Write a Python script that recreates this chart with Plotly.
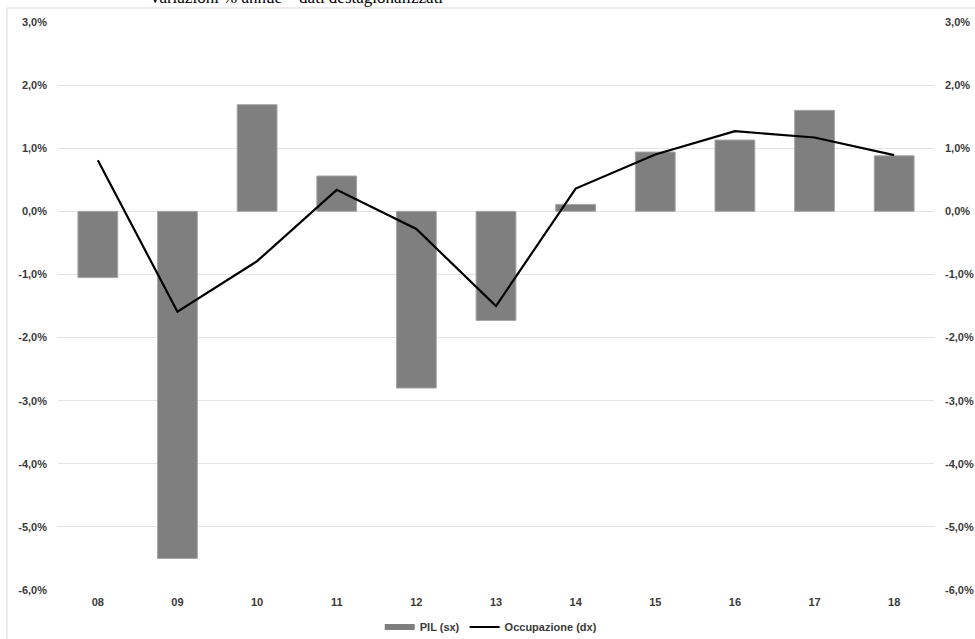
import plotly.graph_objects as go

# Anni (etichette categoria)
anni = ["08", "09", "10", "11", "12", "13", "14", "15", "16", "17", "18"]
# Variazione % annua del PIL (asse sinistro)
pil = [-1.05, -5.5, 1.69, 0.56, -2.8, -1.73, 0.11, 0.94, 1.13, 1.6, 0.88]
# Variazione % annua dell'occupazione (asse destro)
occupazione = [0.81, -1.59, -0.79, 0.34, -0.28, -1.5, 0.36, 0.9, 1.27, 1.17, 0.89]

tick_vals = [3, 2, 1, 0, -1, -2, -3, -4, -5, -6]
tick_text = ["3,0%", "2,0%", "1,0%", "0,0%", "-1,0%", "-2,0%", "-3,0%", "-4,0%", "-5,0%", "-6,0%"]

W, H = 975, 639
ML, MR, MT, MB = 58, 41, 22, 49
PW, PH = W - ML - MR, H - MT - MB

lab_font = dict(family="Liberation Sans, Arial, sans-serif", size=11, color="#3a3a3a")
BAR_COLOR = "#7f7f7f"

fig = go.Figure()
fig.add_trace(go.Bar(
    x=anni, y=pil, name="PIL (sx)", showlegend=False,
    marker=dict(color=BAR_COLOR, line=dict(color="#a6a6a6", width=1)),
    width=0.5, yaxis="y",
))
# voce di legenda per il PIL con simbolo a barra orizzontale
fig.add_trace(go.Scatter(
    x=[None], y=[None], name="<b>PIL (sx)</b>", mode="lines",
    line=dict(color=BAR_COLOR, width=6), yaxis="y",
))
fig.add_trace(go.Scatter(
    x=anni, y=occupazione, name="<b>Occupazione (dx)</b>", mode="lines",
    line=dict(color="#000000", width=2.2), yaxis="y2",
))

axis_common = dict(
    range=[-6, 3], tickvals=tick_vals, ticktext=[f"<b>{t}</b>" for t in tick_text],
    tickfont=lab_font, zeroline=False, showline=False, ticks="", automargin=False,
)

fig.update_layout(
    width=W, height=H,
    margin=dict(l=ML, r=MR, t=MT, b=MB, pad=0, autoexpand=False),
    paper_bgcolor="white", plot_bgcolor="white",
    xaxis=dict(
        tickfont=lab_font, showgrid=False, showline=False, ticks="",
        tickvals=anni, ticktext=[f"<b>{a}</b>" for a in anni],
        ticklabelstandoff=4, automargin=False,
    ),
    yaxis=dict(**axis_common, showgrid=True, gridcolor="#e4e4e4", gridwidth=1,
               ticklabelstandoff=10),
    yaxis2=dict(**axis_common, overlaying="y", side="right", showgrid=False,
                ticklabelstandoff=10),
    legend=dict(
        orientation="h", x=0.494, xanchor="center",
        yref="container", y=1 - 627 / H, yanchor="middle",
        font=lab_font, bgcolor="rgba(0,0,0,0)",
        itemwidth=30, tracegroupgap=0,
    ),
    showlegend=True,
)

# Cornice del grafico (bordo superiore e sinistro)
fig.add_shape(
    type="rect", xref="paper", yref="paper",
    x0=(7 - ML) / PW, x1=(W + 5 - ML) / PW,
    y0=-(H + 5 - MT - PH) / PH, y1=1 + (MT - 8) / PH,
    line=dict(color="#d9d9d9", width=1), fillcolor="rgba(0,0,0,0)", layer="below",
)

# Sottotitolo sopra la cornice
fig.add_annotation(
    text="Variazioni % annue – dati destagionalizzati",
    xref="paper", yref="paper",
    x=(147 - ML) / PW, xanchor="left",
    y=1 + (MT - 9) / PH, yanchor="bottom",
    showarrow=False,
    font=dict(family="Liberation Serif, Times New Roman, serif", size=17, color="#000000"),
)

fig.write_html("out.html")
